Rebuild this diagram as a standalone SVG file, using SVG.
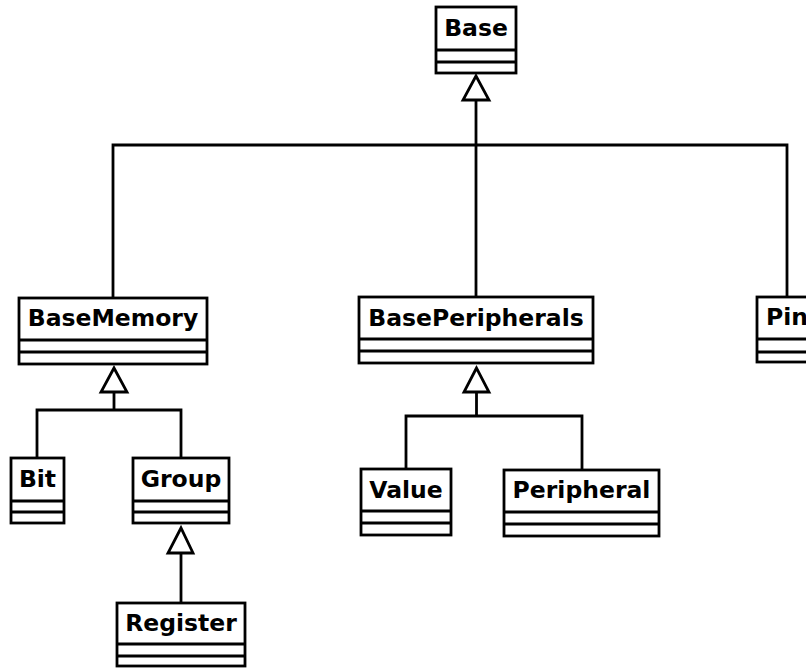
<svg xmlns="http://www.w3.org/2000/svg" width="806" height="668" viewBox="0 0 806 668">
<style>
.box{fill:#fff;stroke:#000;stroke-width:2.8}
.sep{stroke:#000;stroke-width:2.8}
.t{font-family:"DejaVu Sans",sans-serif;font-weight:bold;font-size:23.5px;fill:#000}
.c{fill:none;stroke:#000;stroke-width:2.8}
.tri{fill:#fff;stroke:#000;stroke-width:2.8;stroke-linejoin:miter}
</style>
<rect width="806" height="668" fill="#fff"/>
<g id="connectors">
<polyline class="c" points="113,298 113,145 787,145 787,297"/>
<line class="c" x1="476" y1="100" x2="476" y2="297"/>
<polygon class="tri" points="476,76 463,100 489,100"/>
<polyline class="c" points="37,458 37,410 181,410 181,458"/>
<line class="c" x1="114" y1="392" x2="114" y2="410"/>
<polygon class="tri" points="114,368 101,392 127,392"/>
<polyline class="c" points="406,469 406,416 582,416 582,470"/>
<line class="c" x1="476.5" y1="392" x2="476.5" y2="416"/>
<polygon class="tri" points="476.5,368 464,392 489,392"/>
<line class="c" x1="181" y1="553" x2="181" y2="603"/>
<polygon class="tri" points="181,528 168,553 193,553"/>
</g>
<g id="Base">
<rect class="box" x="436" y="7" width="80" height="66"/>
<line class="sep" x1="436" y1="50" x2="516" y2="50"/>
<line class="sep" x1="436" y1="62" x2="516" y2="62"/>
<text class="t" x="476" y="36" text-anchor="middle">Base</text>
</g>
<g id="BaseMemory">
<rect class="box" x="19" y="298" width="188" height="66"/>
<line class="sep" x1="19" y1="340" x2="207" y2="340"/>
<line class="sep" x1="19" y1="352" x2="207" y2="352"/>
<text class="t" x="113" y="326" text-anchor="middle">BaseMemory</text>
</g>
<g id="BasePeripherals">
<rect class="box" x="359" y="297" width="234" height="66"/>
<line class="sep" x1="359" y1="339" x2="593" y2="339"/>
<line class="sep" x1="359" y1="351" x2="593" y2="351"/>
<text class="t" x="476" y="326" text-anchor="middle">BasePeripherals</text>
</g>
<g id="Pin">
<rect class="box" x="757" y="297" width="70" height="65"/>
<line class="sep" x1="757" y1="339" x2="827" y2="339"/>
<line class="sep" x1="757" y1="352" x2="827" y2="352"/>
<text class="t" x="766" y="325">Pin</text>
</g>
<g id="Bit">
<rect class="box" x="11" y="458" width="53" height="65"/>
<line class="sep" x1="11" y1="501" x2="64" y2="501"/>
<line class="sep" x1="11" y1="512" x2="64" y2="512"/>
<text class="t" x="37.5" y="487" text-anchor="middle">Bit</text>
</g>
<g id="Group">
<rect class="box" x="133" y="458" width="96" height="65"/>
<line class="sep" x1="133" y1="501" x2="229" y2="501"/>
<line class="sep" x1="133" y1="512" x2="229" y2="512"/>
<text class="t" x="181" y="487" text-anchor="middle">Group</text>
</g>
<g id="Register">
<rect class="box" x="117" y="603" width="128" height="63"/>
<line class="sep" x1="117" y1="644" x2="245" y2="644"/>
<line class="sep" x1="117" y1="656" x2="245" y2="656"/>
<text class="t" x="181" y="631" text-anchor="middle">Register</text>
</g>
<g id="Value">
<rect class="box" x="361" y="469" width="90" height="66"/>
<line class="sep" x1="361" y1="511" x2="451" y2="511"/>
<line class="sep" x1="361" y1="523" x2="451" y2="523"/>
<text class="t" x="406" y="498" text-anchor="middle">Value</text>
</g>
<g id="Peripheral">
<rect class="box" x="504" y="470" width="155" height="66"/>
<line class="sep" x1="504" y1="512" x2="659" y2="512"/>
<line class="sep" x1="504" y1="524" x2="659" y2="524"/>
<text class="t" x="581.5" y="498" text-anchor="middle">Peripheral</text>
</g>
</svg>
